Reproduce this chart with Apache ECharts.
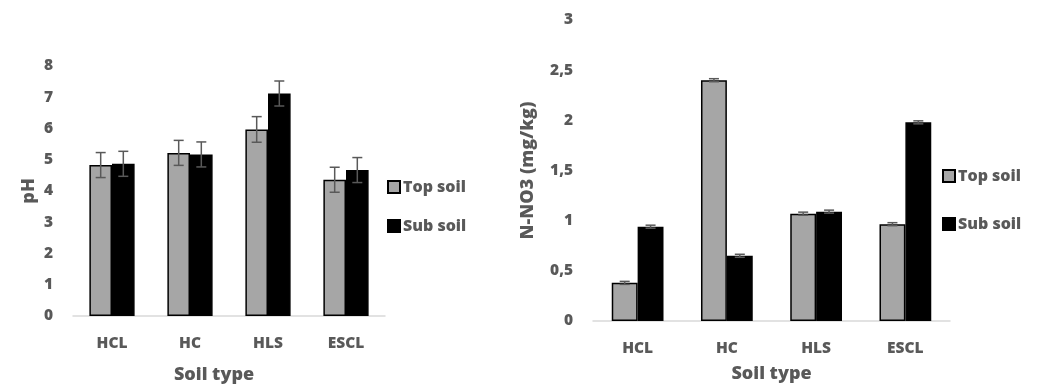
<!DOCTYPE html>
<html>
<head>
<meta charset="utf-8">
<script src="https://cdn.jsdelivr.net/npm/echarts@6/dist/echarts.min.js"></script>
<style>
html,body{margin:0;padding:0;background:#fff;}
#chart{width:1051px;height:389px;}
</style>
</head>
<body>
<div id="chart"></div>
<script>
var categories = ['HCL', 'HC', 'HLS', 'ESCL'];
var seriesNames = ['Top soil', 'Sub soil'];
var phTop = [4.83, 5.22, 5.97, 4.36];
var phSub = [4.87, 5.17, 7.12, 4.67];
var phTopErr = [0.4, 0.4, 0.41, 0.4];
var phSubErr = [0.4, 0.4, 0.4, 0.4];
var no3Top = [0.38, 2.40, 1.07, 0.965];
var no3Sub = [0.94, 0.65, 1.09, 1.98];
var no3TopErr = [0.015, 0.015, 0.015, 0.015];
var no3SubErr = [0.015, 0.015, 0.015, 0.015];

var FONT = 'Open Sans';
var WEIGHT = 800;
var TXT = '#595959';
var GAP = 0.42;

function errData(vals, errs) {
  return vals.map(function (v, i) { return [i, v, errs[i]]; });
}
function errSeries(name, vals, errs, which, xi, yi) {
  return {
    type: 'custom', name: name + ' err', xAxisIndex: xi, yAxisIndex: yi, z: 10,
    silent: true,
    data: errData(vals, errs),
    renderItem: function (params, api) {
      var idx = api.value(0), v = api.value(1), e = api.value(2);
      var band = api.size([1, 0])[0];
      var bw = band * (1 - GAP) / 2;
      var c = api.coord([idx, v]);
      var x = c[0] + (which === 0 ? -bw / 2 : bw / 2);
      var yHi = api.coord([idx, v + e])[1];
      var yLo = api.coord([idx, v - e])[1];
      var cap = 5;
      var st = { stroke: '#595959', lineWidth: 1.5 };
      return { type: 'group', children: [
        { type: 'line', shape: { x1: x, y1: yHi, x2: x, y2: yLo }, style: st },
        { type: 'line', shape: { x1: x - cap, y1: yHi, x2: x + cap, y2: yHi }, style: st },
        { type: 'line', shape: { x1: x - cap, y1: yLo, x2: x + cap, y2: yLo }, style: st }
      ]};
    }
  };
}
function barSeries(name, vals, color, xi, yi) {
  return {
    type: 'bar', name: name, xAxisIndex: xi, yAxisIndex: yi, data: vals,
    barGap: '0%', barCategoryGap: (GAP * 100) + '%',
    itemStyle: { color: color, borderColor: '#000', borderWidth: 1.5 },
    emphasis: { disabled: true }
  };
}
function xAxis(gi, nameGap, namePad) {
  return {
    type: 'category', gridIndex: gi, data: categories,
    axisLine: { lineStyle: { color: '#D9D9D9', width: 1.5 } },
    axisTick: { show: false },
    axisLabel: { color: TXT, fontFamily: FONT, fontWeight: WEIGHT, fontSize: 15.5, margin: 20 },
    name: 'Soil type', nameLocation: 'middle', nameGap: nameGap,
    nameTextStyle: { color: TXT, fontFamily: FONT, fontWeight: WEIGHT, fontSize: 18, padding: namePad }
  };
}
function yAxis(gi, max, interval, name, nameGap) {
  return {
    type: 'value', gridIndex: gi, min: 0, max: max, interval: interval,
    splitLine: { show: false }, axisLine: { show: false }, axisTick: { show: false },
    axisLabel: { color: TXT, fontFamily: FONT, fontWeight: WEIGHT, fontSize: 15.5, margin: 20,
      formatter: function (v) { return String(v).replace('.', ','); } },
    name: name, nameLocation: 'middle', nameGap: nameGap, nameRotate: 90,
    nameTextStyle: { color: TXT, fontFamily: FONT, fontWeight: WEIGHT, fontSize: 18 }
  };
}
function legend(left, top, gap) {
  return {
    data: seriesNames, orient: 'vertical', left: left, top: top, itemGap: gap, padding: 0,
    icon: 'rect', itemWidth: 12, itemHeight: 12, selectedMode: false,
    textStyle: { color: TXT, fontFamily: FONT, fontWeight: WEIGHT, fontSize: 16, padding: [0, 0, 0, -2] }
  };
}

var chart = echarts.init(document.getElementById('chart'), null, { renderer: 'canvas' });
chart.setOption({
  animation: false,
  backgroundColor: '#fff',
  grid: [
    { left: 73, right: 666, top: 66, bottom: 71 },
    { left: 593, right: 101, top: 20, bottom: 68 }
  ],
  legend: [legend(387, 179, 23), legend(942, 168, 32)],
  xAxis: [xAxis(0, 50, [0, 30, 0, 0]), xAxis(1, 44, 0)],
  yAxis: [yAxis(0, 8, 1, 'pH', 35), yAxis(1, 3, 0.5, 'N-NO3 (mg/kg)', 56)],
  series: [
    barSeries('Top soil', phTop, '#A6A6A6', 0, 0),
    barSeries('Sub soil', phSub, '#000000', 0, 0),
    barSeries('Top soil', no3Top, '#A6A6A6', 1, 1),
    barSeries('Sub soil', no3Sub, '#000000', 1, 1),
    errSeries('Top soil', phTop, phTopErr, 0, 0, 0),
    errSeries('Sub soil', phSub, phSubErr, 1, 0, 0),
    errSeries('Top soil', no3Top, no3TopErr, 0, 1, 1),
    errSeries('Sub soil', no3Sub, no3SubErr, 1, 1, 1)
  ]
});
</script>
</body>
</html>
